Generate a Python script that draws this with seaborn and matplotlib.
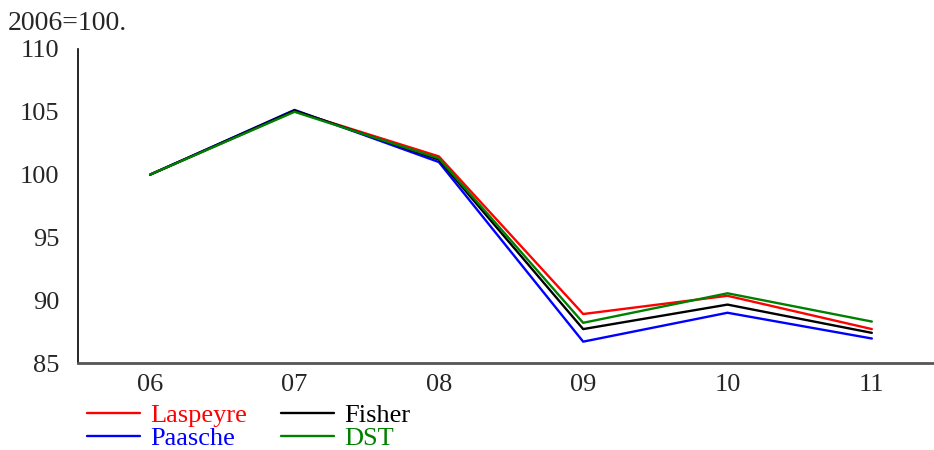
import matplotlib
matplotlib.use("Agg")
import matplotlib.pyplot as plt
import seaborn as sns
import pandas as pd
from matplotlib.ticker import FixedLocator

years = ["06", "07", "08", "09", "10", "11"]
laspeyre = [100.0, 105.05, 101.45, 88.9, 90.35, 87.7]
paasche = [100.0, 105.15, 101.0, 86.7, 89.0, 86.95]
fisher = [100.0, 105.1, 101.2, 87.7, 89.65, 87.4]
dst = [100.0, 105.0, 101.3, 88.2, 90.55, 88.3]

series_names = ["Laspeyre", "Paasche", "Fisher", "DST"]
colors = {"Laspeyre": "#ff0000", "Paasche": "#0000ff", "Fisher": "#000000", "DST": "#008000"}

rows = []
for name, vals in zip(series_names, [laspeyre, paasche, fisher, dst]):
    for i, (y, v) in enumerate(zip(years, vals)):
        rows.append({"pos": i, "year": y, "value": v, "series": name})
df = pd.DataFrame(rows)

sns.set_style("white")
plt.rcParams["font.family"] = ["Liberation Serif", "DejaVu Serif"]

fig = plt.figure(figsize=(9.34, 4.5), dpi=100)
ax = fig.add_axes([78 / 934, 1 - 363 / 450, (944 - 78) / 934, (363 - 49) / 450])

sns.lineplot(data=df, x="pos", y="value", hue="series", hue_order=series_names,
             palette=colors, linewidth=1.7, ax=ax, legend=False, estimator=None, sort=False)

ax.set_xlim(-0.5, 5.5)
ax.set_ylim(85, 110)
ax.set_yticks([85, 90, 95, 100, 105, 110])
ax.set_xticks(range(len(years)))
ax.set_xticklabels(years)
ax.xaxis.set_minor_locator(FixedLocator([0.5, 1.5, 2.5, 3.5, 4.5]))
ax.tick_params(axis="x", which="major", length=0, labelsize=19, pad=8)
ax.tick_params(axis="x", which="minor", length=4.5, width=1.2, color="#333333", direction="out")
ax.tick_params(axis="y", which="major", length=6.5, width=1.2, color="#000000", direction="out",
               labelsize=19, pad=7)
ax.set_xlabel("")
ax.set_ylabel("")
for s in ["top", "right"]:
    ax.spines[s].set_visible(False)
ax.spines["left"].set_color("#000000")
ax.spines["left"].set_linewidth(1.2)
ax.spines["bottom"].set_color("#555555")
ax.spines["bottom"].set_linewidth(2)
ax.grid(False)

fig.text(8 / 934, 1 - 23 / 450, "2006=100.", fontsize=20, va="center", ha="left")

handles = [plt.Line2D([], [], color=colors[n], linewidth=1.7) for n in series_names]
leg = fig.legend(handles, series_names, ncol=2, loc="upper left",
                 bbox_to_anchor=(87 / 934, 1 - 404 / 450), frameon=False, fontsize=19,
                 handlelength=2.0, handletextpad=0.38, columnspacing=1.3,
                 labelspacing=-0.02, borderaxespad=0, borderpad=0)
for t, n in zip(leg.get_texts(), series_names):
    t.set_color(colors[n])

fig.savefig("out.png", dpi=100)
